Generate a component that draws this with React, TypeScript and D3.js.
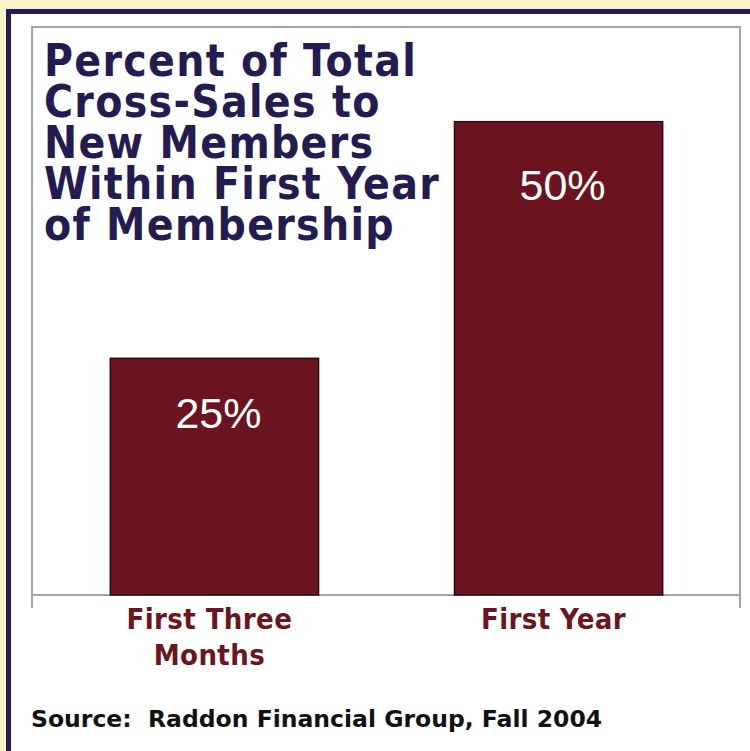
import React from "react";
import * as d3 from "d3";

const categories = ["First Three Months", "First Year"];
const categoryLines = [["First Three", "Months"], ["First Year"]];
const values = [25, 50];
const valueLabels = ["25%", "50%"];
const titleLines = [
  "Percent of Total",
  "Cross-Sales to",
  "New Members",
  "Within First Year",
  "of Membership",
];
const sourceText = "Source:  Raddon Financial Group, Fall 2004";

const W = 750;
const H = 751;

export default function App() {
  const frame = { left: 32, right: 740, top: 27, base: 595, tickEnd: 608 };
  const x = d3
    .scaleBand<string>()
    .domain(categories)
    .range([41.5, 731.5])
    .paddingInner(0.395)
    .paddingOuter(0.2);
  const y = d3.scaleLinear().domain([0, 60]).range([frame.base, frame.top]);

  const navy = "#241c50";
  const barFill = "#6b1420";
  const catColor = "#6b1520";
  const titleFont = "'DejaVu Sans Condensed', 'DejaVu Sans', sans-serif";

  return (
    <svg
      width={W}
      height={H}
      style={{ position: "absolute", left: 0, top: 0, display: "block" }}
    >
      <rect x={0} y={0} width={W} height={H} fill="#fcf2c8" />
      <rect x={6} y={9} width={W - 6} height={H - 9} fill={navy} />
      <rect x={11} y={14} width={W - 11} height={H - 14} fill="#ffffff" />

      {/* plot frame */}
      <path
        d={`M${frame.left},${frame.tickEnd}V${frame.top}H${frame.right}V${frame.tickEnd}`}
        fill="none"
        stroke="#a4a4a4"
        strokeWidth={2}
      />
      <line
        x1={frame.left}
        x2={frame.right}
        y1={frame.base}
        y2={frame.base}
        stroke="#a4a4a4"
        strokeWidth={2}
      />

      {/* bars */}
      {categories.map((c, i) => (
        <rect
          key={c}
          x={x(c)!}
          y={y(values[i])}
          width={x.bandwidth()}
          height={y(0) - y(values[i])}
          fill={barFill}
          stroke="#2a0a0e"
          strokeWidth={1.5}
        />
      ))}

      {/* value labels */}
      {categories.map((c, i) => {
        const h = y(0) - y(values[i]);
        return (
          <text
            key={c + "v"}
            x={x(c)! + x.bandwidth() / 2 + 4}
            y={y(values[i]) + 62 + 0.034 * h}
            textAnchor="middle"
            fill="#ffffff"
            fontFamily="'Liberation Sans', Arial, sans-serif"
            fontSize={43}
          >
            {valueLabels[i]}
          </text>
        );
      })}

      {/* category labels */}
      {categories.map((c, i) => (
        <text
          key={c + "c"}
          textAnchor="middle"
          fill={catColor}
          fontFamily={titleFont}
          fontWeight="bold"
          fontSize={29}
          letterSpacing={0.4}
        >
          {categoryLines[i].map((ln, j) => (
            <tspan key={j} x={x(c)! + x.bandwidth() / 2 - 5} y={629 + j * 36}>
              {ln}
            </tspan>
          ))}
        </text>
      ))}

      {/* title */}
      <text
        fill={navy}
        fontFamily={titleFont}
        fontWeight="bold"
        fontSize={44}
        letterSpacing={1.3}
      >
        {titleLines.map((ln, j) => (
          <tspan key={j} x={44} y={76 + j * 41}>
            {ln}
          </tspan>
        ))}
      </text>

      {/* source */}
      <text
        x={31}
        y={727}
        fill="#111111"
        fontFamily="'DejaVu Sans', sans-serif"
        fontWeight="bold"
        fontSize={23.5}
        style={{ whiteSpace: "pre" }}
        xmlSpace="preserve"
      >
        {sourceText}
      </text>
    </svg>
  );
}
